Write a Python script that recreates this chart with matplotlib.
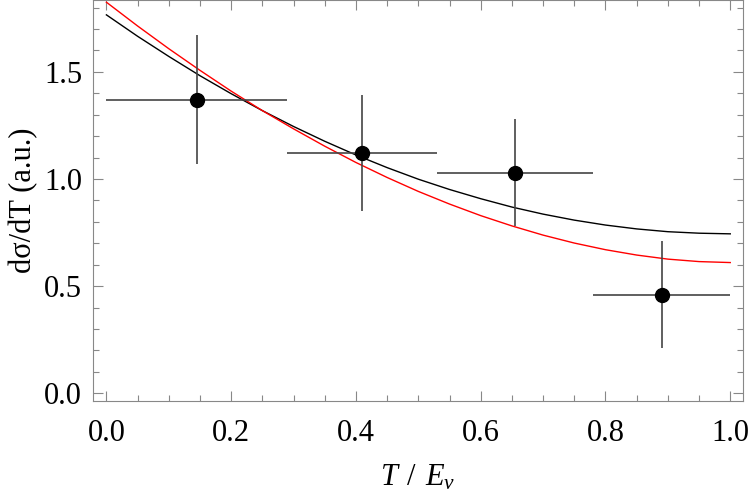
import numpy as np
import matplotlib
matplotlib.use("Agg")
import matplotlib.pyplot as plt
from matplotlib.ticker import MultipleLocator

plt.rcParams['font.family'] = ['Liberation Serif', 'DejaVu Serif']
plt.rcParams['mathtext.fontset'] = 'custom'
plt.rcParams['mathtext.rm'] = 'Liberation Serif'
plt.rcParams['mathtext.it'] = 'Liberation Serif:italic'

# data points (bin centres, bin edges, values, errors)
bin_lo = [0.0, 0.29, 0.53, 0.78]
bin_hi = [0.29, 0.53, 0.78, 1.0]
x_pts = [0.145, 0.41, 0.655, 0.89]
y_pts = [1.37, 1.12, 1.03, 0.46]
y_err = [0.30, 0.27, 0.25, 0.25]

# model curves
x_curve = [0.0, 0.05, 0.1, 0.15, 0.2, 0.25, 0.3, 0.35, 0.4, 0.45, 0.5,
           0.55, 0.6, 0.65, 0.7, 0.75, 0.8, 0.85, 0.9, 0.95, 1.0]
y_black = [1.766, 1.666, 1.572, 1.482, 1.398, 1.319, 1.245, 1.176, 1.112, 1.053, 0.999,
           0.951, 0.908, 0.869, 0.836, 0.808, 0.785, 0.767, 0.754, 0.747, 0.744]
y_red = [1.825, 1.714, 1.608, 1.507, 1.410, 1.319, 1.234, 1.153, 1.077, 1.007, 0.942,
         0.883, 0.829, 0.781, 0.738, 0.701, 0.670, 0.645, 0.626, 0.6145, 0.610]

fig = plt.figure(figsize=(7.5, 4.92), dpi=100)
ax = fig.add_axes([0.1244, 0.185, 0.8656, 0.814])

ax.plot(x_curve, y_black, color='black', lw=1.0, zorder=2)
ax.plot(x_curve, y_red, color='red', lw=1.0, zorder=2)

x = np.array(x_pts)
xerr = [x - np.array(bin_lo), np.array(bin_hi) - x]
ax.errorbar(x_pts, y_pts, xerr=xerr, yerr=y_err, fmt='none',
            ecolor='#444444', elinewidth=1.2, capsize=0, zorder=3)
ax.plot(x_pts, y_pts, 'o', color='black', ms=10, zorder=4)

ax.set_xlim(-0.021, 1.0196)
ax.set_ylim(-0.036, 1.833)

ax.xaxis.set_major_locator(MultipleLocator(0.2))
ax.xaxis.set_minor_locator(MultipleLocator(0.05))
ax.yaxis.set_major_locator(MultipleLocator(0.5))
ax.yaxis.set_minor_locator(MultipleLocator(0.1))
ax.tick_params(which='both', direction='in', top=True, right=True,
               color='#888888', width=0.8, labelsize=22)
ax.tick_params(axis='x', which='both', pad=13)
ax.tick_params(axis='y', which='both', pad=8)
ax.tick_params(which='major', length=7)
ax.tick_params(which='minor', length=4)
for s in ax.spines.values():
    s.set_color('#888888')
    s.set_linewidth(0.8)

ax.set_xlabel(r'$T\;\,/\;\,E_\nu$', fontsize=22, labelpad=11)
ax.set_ylabel('dσ/dT (a.u.)', fontsize=22, labelpad=4)

plt.savefig('out.png', dpi=100)
plt.close()
